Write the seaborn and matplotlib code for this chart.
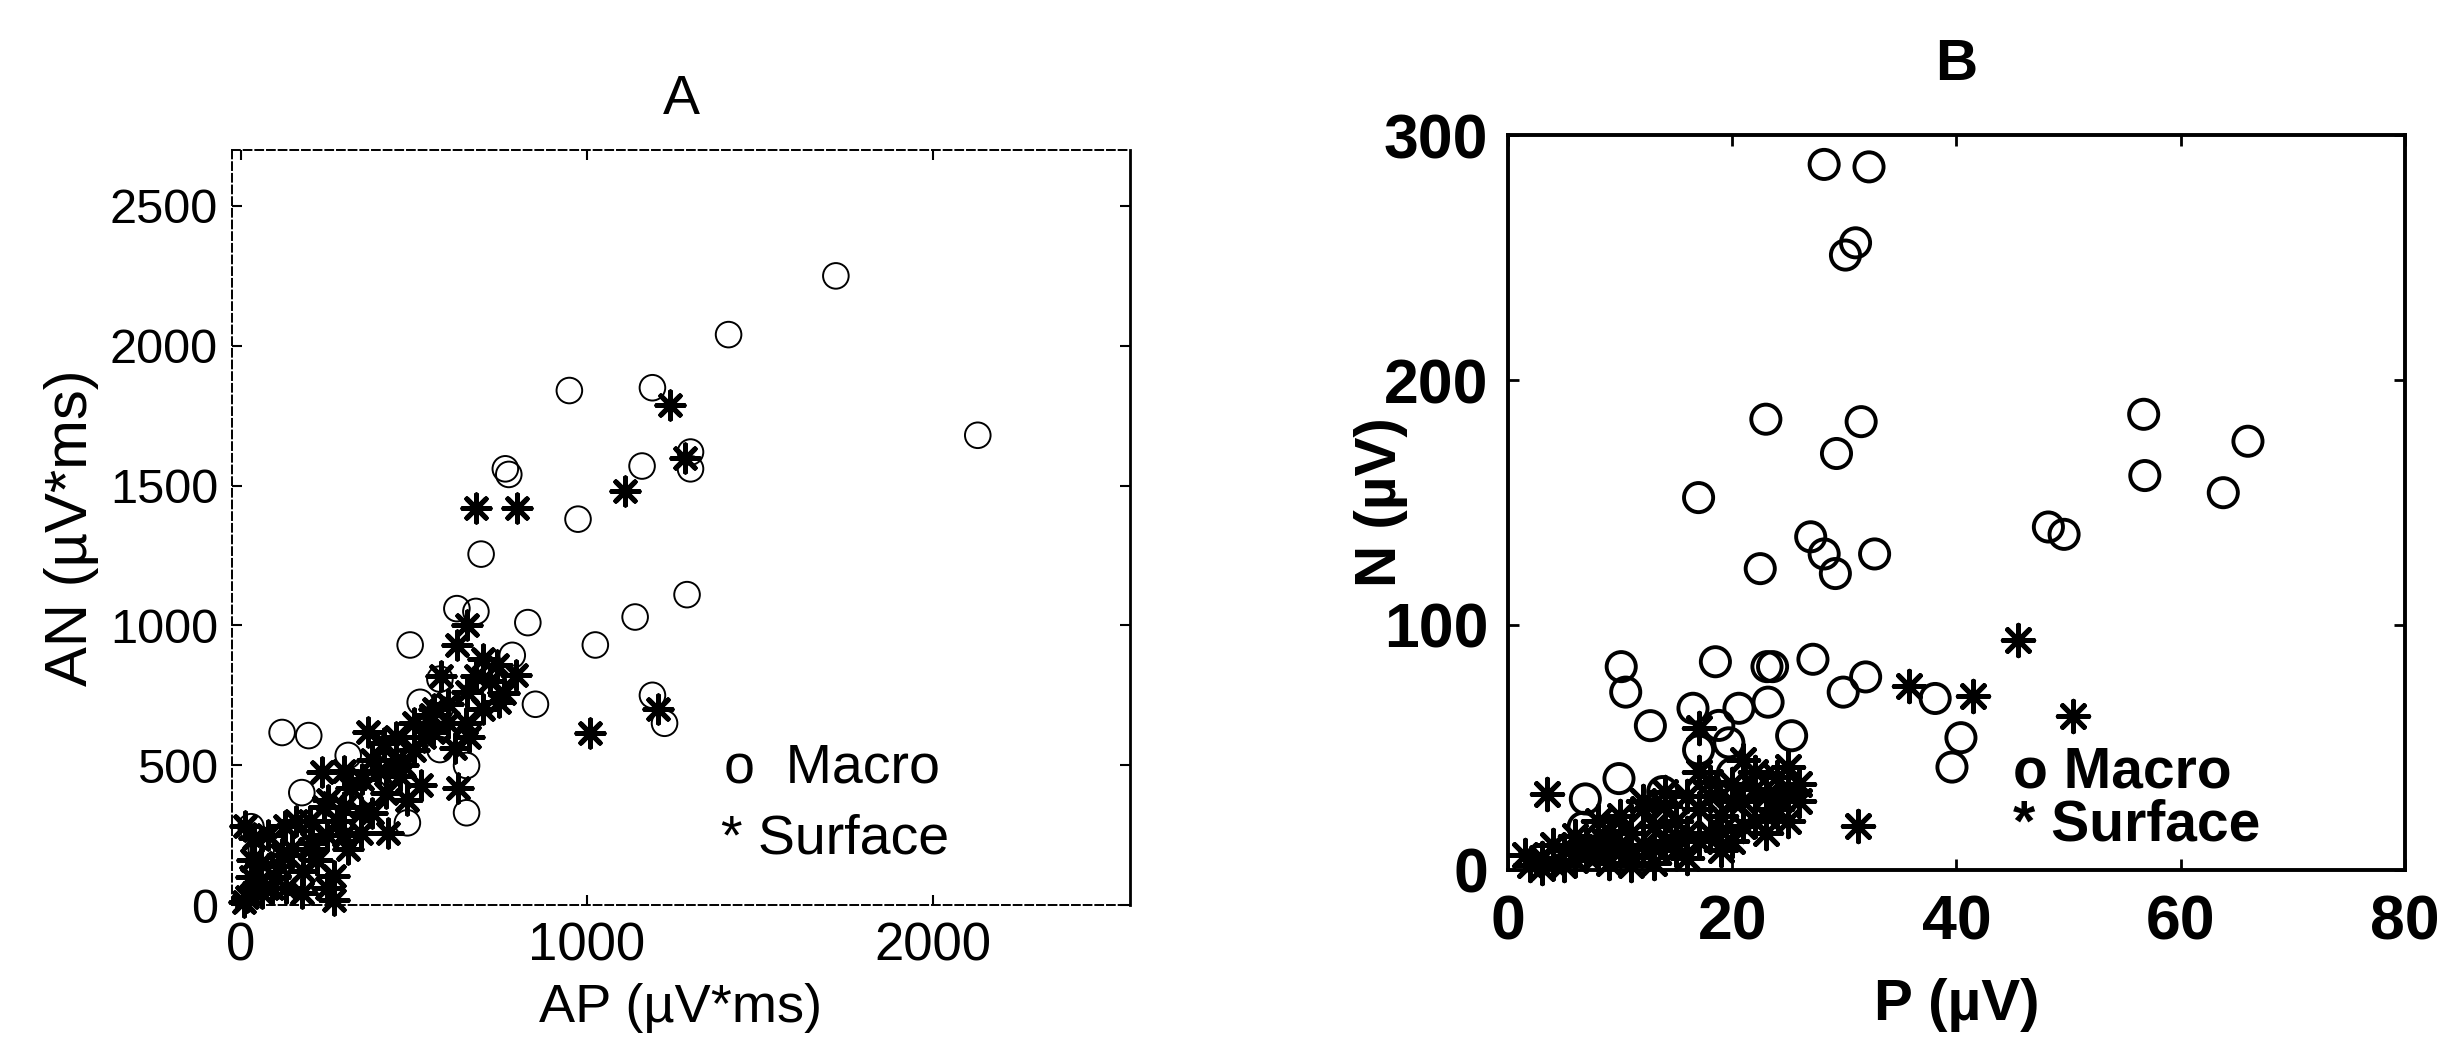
import pandas as pd
import numpy as np
import matplotlib
matplotlib.use('Agg')
import matplotlib.pyplot as plt
import seaborn as sns

# Panel A: area of the P and N waves (uV*ms)
a_macro_ap = [1720, 1410, 950, 1190, 2130, 1300, 1300, 1160, 765, 775, 975, 695,
              1290, 1140, 1025, 1190, 1225, 625, 680, 830, 490, 785, 852, 576,
              519, 576, 653, 653, 120, 197, 311, 177, 385, 482, 576, 30, 60]
a_macro_an = [2250, 2040, 1840, 1850, 1680, 1620, 1560, 1570, 1560, 1540, 1380, 1255,
              1110, 1030, 930, 750, 650, 1060, 1050, 1010, 930, 893, 718, 808,
              725, 700, 499, 330, 617, 606, 535, 402, 402, 294, 556, 280, 200]

a_surf_ap = [1240, 1285, 1110, 680, 800, 1010, 1205, 628,
             624, 653, 747, 795, 414, 367, 462, 481, 348, 348, 253, 205, 128, 111,
             34, 14, 63, 177, 271, 271, 234, 425, 500, 556, 700, 720, 600, 550,
             650, 700, 450, 400, 320, 300, 280, 200, 150, 100, 50, 20, 80, 220,
             180, 130, 10, 40, 250, 310, 380, 520, 580, 655, 760, 620, 660, 300,
             450, 500, 560, 600, 350, 380, 420, 250, 200, 160, 120, 90, 60, 30,
             240, 300, 680, 740, 530, 470]
a_surf_an = [1790, 1600, 1480, 1420, 1420, 615, 700, 420,
             929, 761, 725, 822, 581, 617, 463, 377, 330, 258, 377, 222, 283, 140,
             162, 283, 43, 43, 18, 104, 474, 258, 556, 617, 880, 800, 720, 680,
             650, 700, 520, 480, 420, 350, 300, 300, 200, 100, 80, 30, 250, 160,
             120, 60, 10, 240, 60, 200, 330, 430, 820, 1000, 760, 560, 600, 480,
             600, 650, 700, 650, 450, 520, 400, 250, 200, 300, 180, 60, 150, 100,
             350, 250, 820, 860, 600, 500]

# Panel B: peak amplitudes (uV)
b_macro_p = [28.2, 32.2, 31.0, 30.1, 23.0, 31.5, 29.3, 56.7, 66.0, 56.8, 63.8, 17.0,
             48.2, 49.6, 27.0, 28.2, 29.2, 32.7, 22.5, 10.1, 10.5, 12.7, 18.5, 23.1,
             23.6, 27.2, 29.9, 31.9, 38.1, 40.4, 39.6, 16.5, 20.6, 23.2, 25.3, 17.0,
             19.7, 17.3, 20.0, 23.0, 9.9, 6.9, 13.8, 6.7, 18.8]
b_macro_n = [288, 287, 256, 251, 184, 183, 170, 186, 175, 161, 154, 152,
             140, 137, 136, 129, 121, 129, 123, 83, 72.6, 58.9, 85, 83,
             83, 86, 72.6, 78.8, 70, 54, 42, 66, 66, 68.5, 54.8, 49,
             51.9, 32.4, 39.4, 34, 37.3, 29, 32, 17.4, 59]

b_surf_p = [45.5, 50.4, 41.5, 35.8, 31.2, 3.5,
            2, 3, 4, 5, 6, 7, 8, 9, 10, 11, 12, 13, 14, 15, 16, 8, 10, 12, 14, 15,
            17, 18, 18, 19, 20, 20, 21, 22, 22, 23, 24, 24, 25, 25, 26, 19, 17, 16,
            13, 11, 6, 4, 9, 21, 23, 26, 17,
            1.5, 3, 5, 7, 9, 11, 13, 15, 17, 19, 21, 23, 25, 14, 16, 18, 20, 22, 24, 12]
b_surf_n = [94, 62.7, 71, 75, 18, 31,
            2, 5, 3, 8, 4, 10, 6, 12, 8, 15, 10, 18, 12, 20, 15, 20, 22, 25, 26, 8,
            25, 15, 30, 22, 35, 12, 28, 20, 40, 30, 25, 38, 32, 42, 28, 8, 40, 5,
            3, 2, 14, 10, 16, 45, 15, 35, 58,
            6, 1, 2, 6, 3, 6, 9, 14, 12, 16, 18, 22, 20, 32, 30, 36, 28, 33, 30, 28]

df_a_macro = pd.DataFrame({'AP': a_macro_ap, 'AN': a_macro_an})
df_a_surf = pd.DataFrame({'AP': a_surf_ap, 'AN': a_surf_an})
df_b_macro = pd.DataFrame({'P': b_macro_p, 'N': b_macro_n})
df_b_surf = pd.DataFrame({'P': b_surf_p, 'N': b_surf_n})

sns.set_theme(style='white')
plt.rcParams['font.family'] = ['Liberation Sans', 'DejaVu Sans']
plt.rcParams['text.color'] = 'black'
plt.rcParams['axes.labelcolor'] = 'black'
plt.rcParams['xtick.color'] = 'black'
plt.rcParams['ytick.color'] = 'black'

fig = plt.figure(figsize=(24.54, 10.59), dpi=100)
ax_a = fig.add_axes([0.0945, 0.1454, 0.366, 0.7129])
ax_b = fig.add_axes([0.6145, 0.1785, 0.3655, 0.694])

asterisk = (8, 2, 0)

# --- A ---
sns.scatterplot(data=df_a_surf, x='AP', y='AN', ax=ax_a, marker=asterisk,
                s=380, color='black', linewidth=3.6, clip_on=False, zorder=3)
sns.scatterplot(data=df_a_macro, x='AP', y='AN', ax=ax_a, marker='o',
                s=340, facecolor='none', edgecolor='black', linewidth=1.4,
                clip_on=False, zorder=4)
ax_a.set_xlim(-25, 2570)
ax_a.set_ylim(0, 2700)
ax_a.set_xticks([0, 1000, 2000])
ax_a.set_yticks([0, 500, 1000, 1500, 2000, 2500])
ax_a.set_xlabel('AP (µV*ms)', fontsize=39, labelpad=8)
ax_a.set_ylabel('AN (µV*ms)', fontsize=43, labelpad=8)
ax_a.set_title('A', fontsize=40, y=1.048, pad=0)
ax_a.tick_params(axis='both', direction='in', length=7, width=1.5,
                 top=True, right=True, bottom=True, left=True, colors='black')
ax_a.tick_params(axis='x', pad=12, labelsize=38)
ax_a.tick_params(axis='y', pad=10, labelsize=35)
for side in ['left', 'top', 'bottom']:
    ax_a.spines[side].set_linestyle((0, (4, 2)))
    ax_a.spines[side].set_linewidth(1.4)
ax_a.spines['right'].set_linewidth(2)
for sp in ax_a.spines.values():
    sp.set_color('black')
ax_a.text(1397, 490, 'o  Macro', fontsize=40, va='center', ha='left')
ax_a.text(1388, 235, '* Surface', fontsize=40, va='center', ha='left')

# --- B ---
sns.scatterplot(data=df_b_surf, x='P', y='N', ax=ax_b, marker=asterisk,
                s=480, color='black', linewidth=3.6, clip_on=False, zorder=3)
sns.scatterplot(data=df_b_macro, x='P', y='N', ax=ax_b, marker='o',
                s=440, facecolor='none', edgecolor='black', linewidth=2.8,
                clip_on=False, zorder=4)
ax_b.set_xlim(0, 80)
ax_b.set_ylim(0, 300)
ax_b.set_xticks([0, 20, 40, 60, 80])
ax_b.set_yticks([0, 100, 200, 300])
ax_b.set_xlabel('P (µV)', fontsize=42, fontweight='bold', labelpad=18)
ax_b.set_ylabel('N (µV)', fontsize=42, fontweight='bold')
ax_b.yaxis.set_label_coords(-0.112, 0.5)
ax_b.set_title('B', fontsize=42, fontweight='bold', y=1.075, pad=0)
ax_b.tick_params(axis='both', direction='in', length=8, width=2, labelsize=45,
                 top=True, right=True, bottom=True, left=True, colors='black')
ax_b.tick_params(axis='x', pad=17)
ax_b.tick_params(axis='y', pad=14)
for lab in ax_b.get_xticklabels() + ax_b.get_yticklabels():
    lab.set_fontweight('bold')
for sp in ax_b.spines.values():
    sp.set_color('black')
    sp.set_linewidth(2.8)
ax_b.text(45, 39.6, 'o Macro', fontsize=41, fontweight='bold', va='center', ha='left')
ax_b.text(45, 18, '* Surface', fontsize=41, fontweight='bold', va='center', ha='left')

fig.savefig('out.png', dpi=100, facecolor='white')
